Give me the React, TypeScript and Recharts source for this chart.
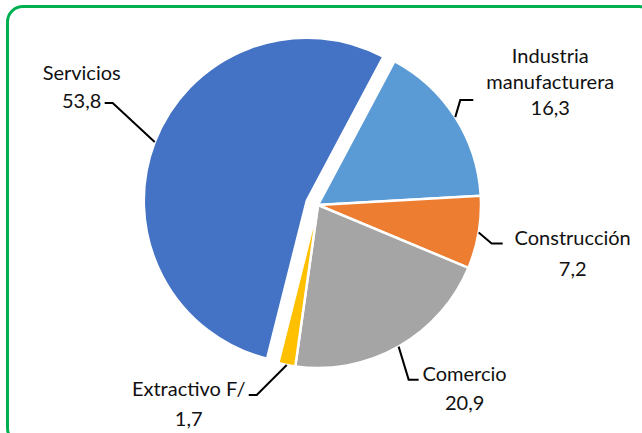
import { PieChart, Pie, Cell } from 'recharts';

// sectors in clockwise order, starting at the Servicios/Industria boundary
const categories = ['Industria manufacturera', 'Construcción', 'Comercio', 'Extractivo F/', 'Servicios'];
const values = [16.3, 7.2, 20.9, 1.7, 53.8];
const colors = ['#5b9bd5', '#ed7d31', '#a5a5a5', '#ffc000', '#4472c4'];

const chartData = categories.map((name, i) => ({ name, value: values[i] }));

const START = 62;
const END = START - 360;
const CX = 318;
const CY = 205;
const R = 163;
const EXPLODE = 12;
const EXPLODED = 4; // Servicios

const RAD = Math.PI / 180;

// mid angle of the exploded slice, from the data
const total = values.reduce((a, b) => a + b, 0);
const before = values.slice(0, EXPLODED).reduce((a, b) => a + b, 0);
const midAngle = START - ((before + values[EXPLODED] / 2) / total) * 360;
const exCx = CX + EXPLODE * Math.cos(midAngle * RAD);
const exCy = CY - EXPLODE * Math.sin(midAngle * RAD);

// leader line + text placement per slice (styling only)
const labelLayout = [
  { elbow: [5, -17], run: 13, tx: 77, ty: [-45, -19, 7], wrap: true },
  { elbow: [13, 11], run: 11, tx: 70, ty: [-6, 25], wrap: false },
  { elbow: [10, 33], run: 10, tx: 46, ty: [-7, 22], wrap: false },
  { elbow: [-30, 30], run: -8, tx: -60, ty: [-7, 23], wrap: false },
  { elbow: [-42, -39], run: -8, tx: -23, ty: [-31, -3], wrap: false },
];

const fmt = (v: number) => v.toFixed(1).replace('.', ',');

const renderLabel = (props: any) => {
  const { cx, cy, midAngle: mid, outerRadius, index, name, value } = props;
  const lay = labelLayout[index];
  let ox = cx;
  let oy = cy;
  if (index === EXPLODED) {
    ox = exCx;
    oy = exCy;
  }
  const sx = ox + outerRadius * Math.cos(-mid * RAD);
  const sy = oy + outerRadius * Math.sin(-mid * RAD);
  const ex = sx + lay.elbow[0];
  const ey = sy + lay.elbow[1];
  const lx = ex + lay.run;
  const lines = lay.wrap ? name.split(' ') : [name];
  lines.push(fmt(value));
  return (
    <g key={`lbl-${index}`}>
      <polyline
        points={`${sx},${sy} ${ex},${ey} ${lx},${ey}`}
        fill="none"
        stroke="#000"
        strokeWidth={2}
      />
      {lines.map((t: string, k: number) => (
        <text
          key={k}
          x={lx + lay.tx}
          y={ey + lay.ty[k]}
          textAnchor="middle"
          dominantBaseline="central"
          fill="#111"
          fontSize={20}
          fontFamily="Lato, 'Open Sans', sans-serif"
        >
          {t}
        </text>
      ))}
    </g>
  );
};

export default function App() {
  return (
    <div style={{ position: 'absolute', left: 0, top: 0, width: 642, height: 433, background: '#fff', overflow: 'hidden' }}>
      <div
        style={{
          position: 'absolute',
          left: 6,
          top: 5,
          width: 650,
          height: 440,
          border: '3px solid #00b050',
          borderRadius: 17,
          boxSizing: 'border-box',
        }}
      />
      <div style={{ position: 'absolute', left: 0, top: 0 }}>
        <PieChart width={642} height={433} margin={{ top: 0, right: 0, bottom: 0, left: 0 }}>
          <Pie
            data={chartData}
            dataKey="value"
            nameKey="name"
            cx={CX}
            cy={CY}
            outerRadius={R}
            startAngle={START}
            endAngle={END}
            isAnimationActive={false}
            label={renderLabel}
            labelLine={false}
          >
            {chartData.map((d, i) => (
              <Cell
                key={`c-${i}`}
                fill={i === EXPLODED ? 'none' : colors[i]}
                stroke={i === EXPLODED ? 'none' : '#fff'}
                strokeWidth={2.5}
              />
            ))}
          </Pie>
          <Pie
            data={chartData}
            dataKey="value"
            nameKey="name"
            cx={exCx}
            cy={exCy}
            outerRadius={R}
            startAngle={START}
            endAngle={END}
            isAnimationActive={false}
          >
            {chartData.map((d, i) => (
              <Cell
                key={`e-${i}`}
                fill={i === EXPLODED ? colors[i] : 'none'}
                stroke={i === EXPLODED ? '#fff' : 'none'}
                strokeWidth={2.5}
              />
            ))}
          </Pie>
        </PieChart>
      </div>
    </div>
  );
}
